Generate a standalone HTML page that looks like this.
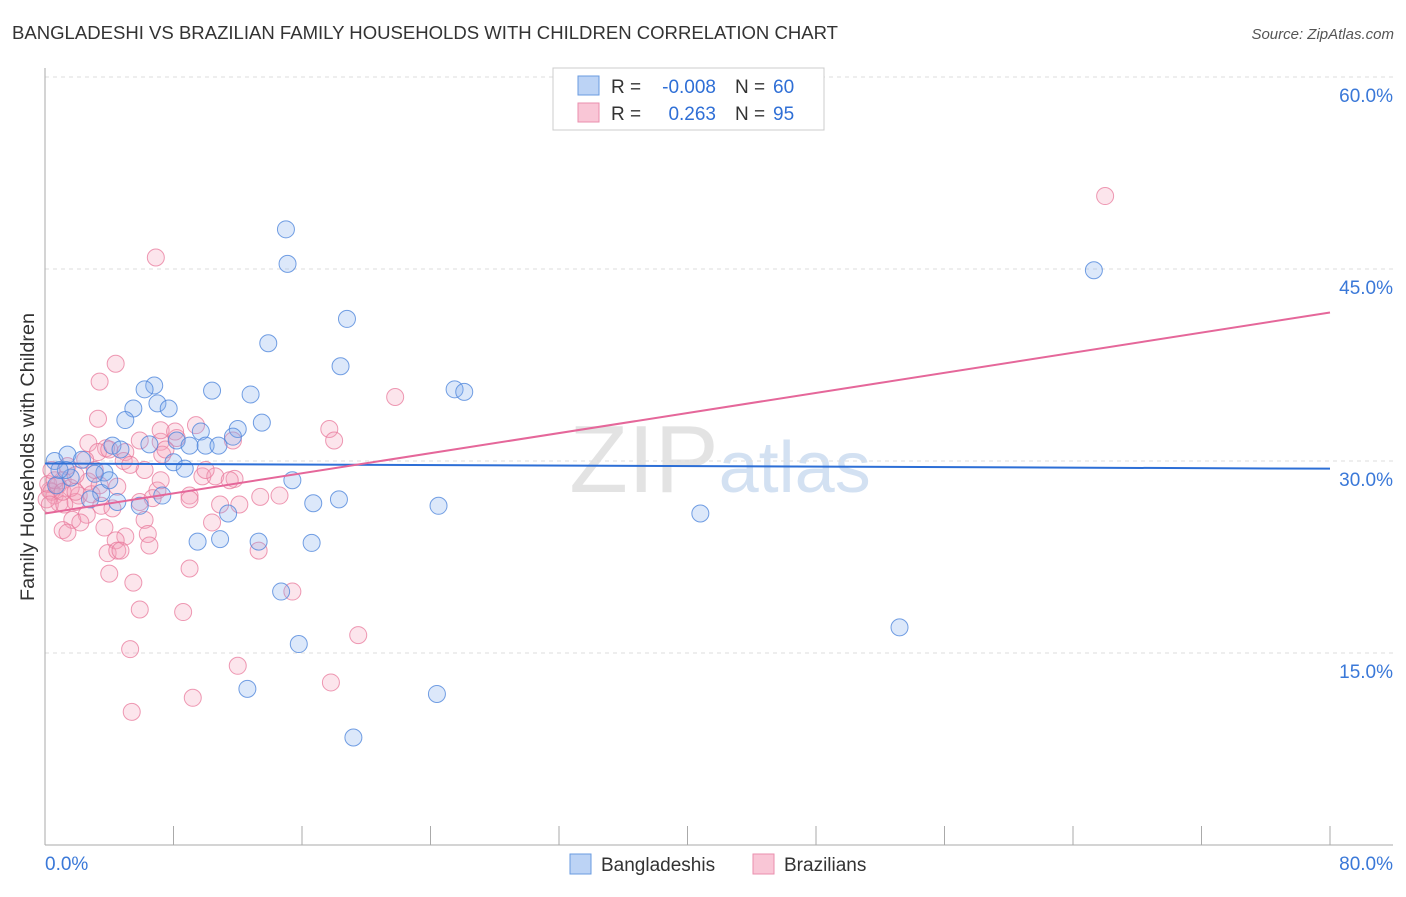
<!DOCTYPE html>
<html><head><meta charset="utf-8"><style>
body{margin:0;background:#fff;font-family:"Liberation Sans",sans-serif;}
svg text{font-family:"Liberation Sans",sans-serif;}
</style></head><body>
<svg id="chart" width="1406" height="892" xmlns="http://www.w3.org/2000/svg">
<text x="12" y="39" font-size="18" fill="#333" textLength="826" lengthAdjust="spacingAndGlyphs">BANGLADESHI VS BRAZILIAN FAMILY HOUSEHOLDS WITH CHILDREN CORRELATION CHART</text>
<text x="1394" y="39" font-size="15" fill="#555" text-anchor="end" font-style="italic">Source: ZipAtlas.com</text>
<text x="720" y="492" font-size="96" fill="#ddd" text-anchor="middle" font-family="Liberation Serif" opacity="0.8">ZIP<tspan fill="#c9daf0" font-family="Liberation Sans" font-size="72">atlas</tspan></text>
<text transform="translate(34,457) rotate(-90)" font-size="19" fill="#333" text-anchor="middle" textLength="288" lengthAdjust="spacingAndGlyphs">Family Households with Children</text>
<g id="grid"></g><g id="axes"></g><g id="pts"></g><g id="lines"></g>
<g>
<rect x="553" y="68" width="271" height="62" fill="#fff" stroke="#ccc"/>
<rect x="578" y="76" width="21" height="19" fill="#bcd3f5" stroke="#6a9be0"/>
<rect x="578" y="103" width="21" height="19" fill="#f9c6d6" stroke="#ea8fae"/>
<text x="611" y="93" font-size="19" fill="#333">R =</text>
<text x="716" y="93" font-size="19" fill="#2f6fd6" text-anchor="end">-0.008</text>
<text x="735" y="93" font-size="19" fill="#333">N =</text>
<text x="773" y="93" font-size="19" fill="#2f6fd6">60</text>
<text x="611" y="120" font-size="19" fill="#333">R =</text>
<text x="716" y="120" font-size="19" fill="#2f6fd6" text-anchor="end">0.263</text>
<text x="735" y="120" font-size="19" fill="#333">N =</text>
<text x="773" y="120" font-size="19" fill="#2f6fd6">95</text>
</g>
<g>
<rect x="570" y="854" width="21" height="20" fill="#bcd3f5" stroke="#6a9be0"/>
<text x="601" y="871" font-size="19" fill="#333">Bangladeshis</text>
<rect x="753" y="854" width="21" height="20" fill="#f9c6d6" stroke="#ea8fae"/>
<text x="784" y="871" font-size="19" fill="#333">Brazilians</text>
</g>
</svg>
<script>
const xTicks=[0,8,16,24,32,40,48,56,64,72,80];
const xLabels=['0.0%','80.0%'];
const yTicks=[15,30,45,60];
const blueX=[15.0,15.1,18.8,13.9,18.4,6.8,6.2,10.4,12.8,25.5,26.1,7.0,7.7,5.5,5.0,13.5,12.0,9.7,8.2,11.7,4.2,4.7,6.5,9.0,10.0,10.8,0.6,1.4,2.3,8.0,8.7,3.7,3.1,15.4,0.7,1.6,3.5,4.5,5.9,7.3,11.4,16.7,18.3,24.5,40.8,65.3,9.5,10.9,13.3,16.6,14.7,53.2,15.8,12.6,24.4,19.2,1.3,2.8,4.0,0.9];
const blueY=[48.1,45.4,41.1,39.2,37.4,35.9,35.6,35.5,35.2,35.6,35.4,34.5,34.1,34.1,33.2,33.0,32.5,32.3,31.6,31.9,31.2,30.9,31.3,31.2,31.2,31.2,30.0,30.5,30.1,29.9,29.4,29.1,29.0,28.5,28.1,28.7,27.5,26.8,26.5,27.3,25.9,26.7,27.0,26.5,25.9,44.9,23.7,23.9,23.7,23.6,19.8,17.0,15.7,12.2,11.8,8.4,29.3,27.0,28.5,29.3];
const pinkX=[66.0,6.9,4.4,3.4,21.8,3.3,9.4,17.7,18.0,5.9,7.2,8.2,2.7,3.8,5.0,7.3,3.3,4.9,1.4,11.7,7.2,9.8,10.6,11.8,1.1,2.7,7.0,6.7,4.5,2.1,2.9,0.3,0.6,0.9,1.9,9.0,13.4,14.6,10.9,12.1,3.5,4.2,5.9,2.6,1.7,2.2,1.1,1.4,3.7,6.2,10.4,5.0,4.4,6.4,6.5,3.9,4.5,4.7,13.3,4.0,5.5,9.0,5.9,8.6,15.4,5.3,19.5,12.0,17.8,9.2,5.4,0.2,0.4,0.8,1.6,0.1,0.3,1.2,2.5,3.1,3.4,1.9,6.2,7.5,8.1,10.0,11.5,4.0,5.3,7.2,9.0,0.6,1.1,1.9,0.4];
const pinkY=[50.7,45.9,37.6,36.2,35.0,33.3,32.8,32.5,31.6,31.6,31.5,31.8,31.4,31.0,30.7,30.5,30.7,30.0,29.6,31.6,32.4,28.8,28.8,28.6,28.5,28.4,27.7,27.1,28.0,27.3,27.4,27.7,27.3,26.7,26.8,27.3,27.2,27.3,26.6,26.6,26.5,26.3,26.8,25.8,25.4,25.2,24.6,24.4,24.8,25.4,25.2,24.1,23.8,24.3,23.4,22.8,23.0,23.0,23.0,21.2,20.5,21.6,18.4,18.2,19.8,15.3,16.4,14.0,12.7,11.5,10.4,28.2,27.6,28.1,27.9,27.0,26.6,26.6,30.1,29.3,28.1,28.9,29.3,30.9,32.3,29.3,28.5,30.9,29.7,28.5,27.0,28.5,27.6,27.6,29.3];
const blueTrend=[29.8,29.4];
const pinkTrend=[25.9,41.6];
const NS="http://www.w3.org/2000/svg";
const sx=v=>45+v*1285/80, sy=v=>845-v*12.8;
function mk(tag,attrs,parent){const e=document.createElementNS(NS,tag);for(const k in attrs)e.setAttribute(k,attrs[k]);document.getElementById(parent).appendChild(e);return e;}
yTicks.forEach(t=>{
 const g=mk('line',{x1:45,x2:1393,y1:sy(t),y2:sy(t),stroke:'#ddd','stroke-dasharray':'4,4'},'grid');
 
 
 const l=mk('text',{x:1393,y:sy(t)+25,'font-size':19,fill:'#3a78d8','text-anchor':'end'},'grid');
 l.textContent=t.toFixed(1)+'%';
 
 
});
const ax=mk('line',{x1:45,x2:45,y1:68,y2:845,stroke:'#aaa'},'axes');


const bx=mk('line',{x1:45,x2:1393,y1:845,y2:845,stroke:'#aaa'},'axes');


xTicks.forEach(t=>{
 const e=mk('line',{x1:sx(t),x2:sx(t),y1:826,y2:845,stroke:'#aaa'},'axes');
 
 
});
const lx0=mk('text',{x:45,y:870,'font-size':19,fill:'#3a78d8'},'axes');lx0.textContent=xLabels[0];


const lx1=mk('text',{x:1393,y:870,'font-size':19,fill:'#3a78d8','text-anchor':'end'},'axes');lx1.textContent=xLabels[1];


function pts(X,Y,fill,stroke,name){X.forEach((x,i)=>{
 const c=mk('circle',{cx:sx(x),cy:sy(Y[i]),r:8.5,fill:fill,stroke:stroke,'stroke-width':1},'pts');
 
 
});}
pts(pinkX,pinkY,'rgba(244,160,188,0.28)','rgba(232,120,155,0.75)','brazilian-point');
pts(blueX,blueY,'rgba(130,172,238,0.28)','rgba(80,135,220,0.8)','bangladeshi-point');
const bl=mk('line',{x1:sx(0),x2:sx(80),y1:sy(blueTrend[0]),y2:sy(blueTrend[1]),stroke:'#2d6fd6','stroke-width':2},'lines');


const pl=mk('line',{x1:sx(0),x2:sx(80),y1:sy(pinkTrend[0]),y2:sy(pinkTrend[1]),stroke:'#e5679a','stroke-width':2},'lines');


</script>
</body></html>
